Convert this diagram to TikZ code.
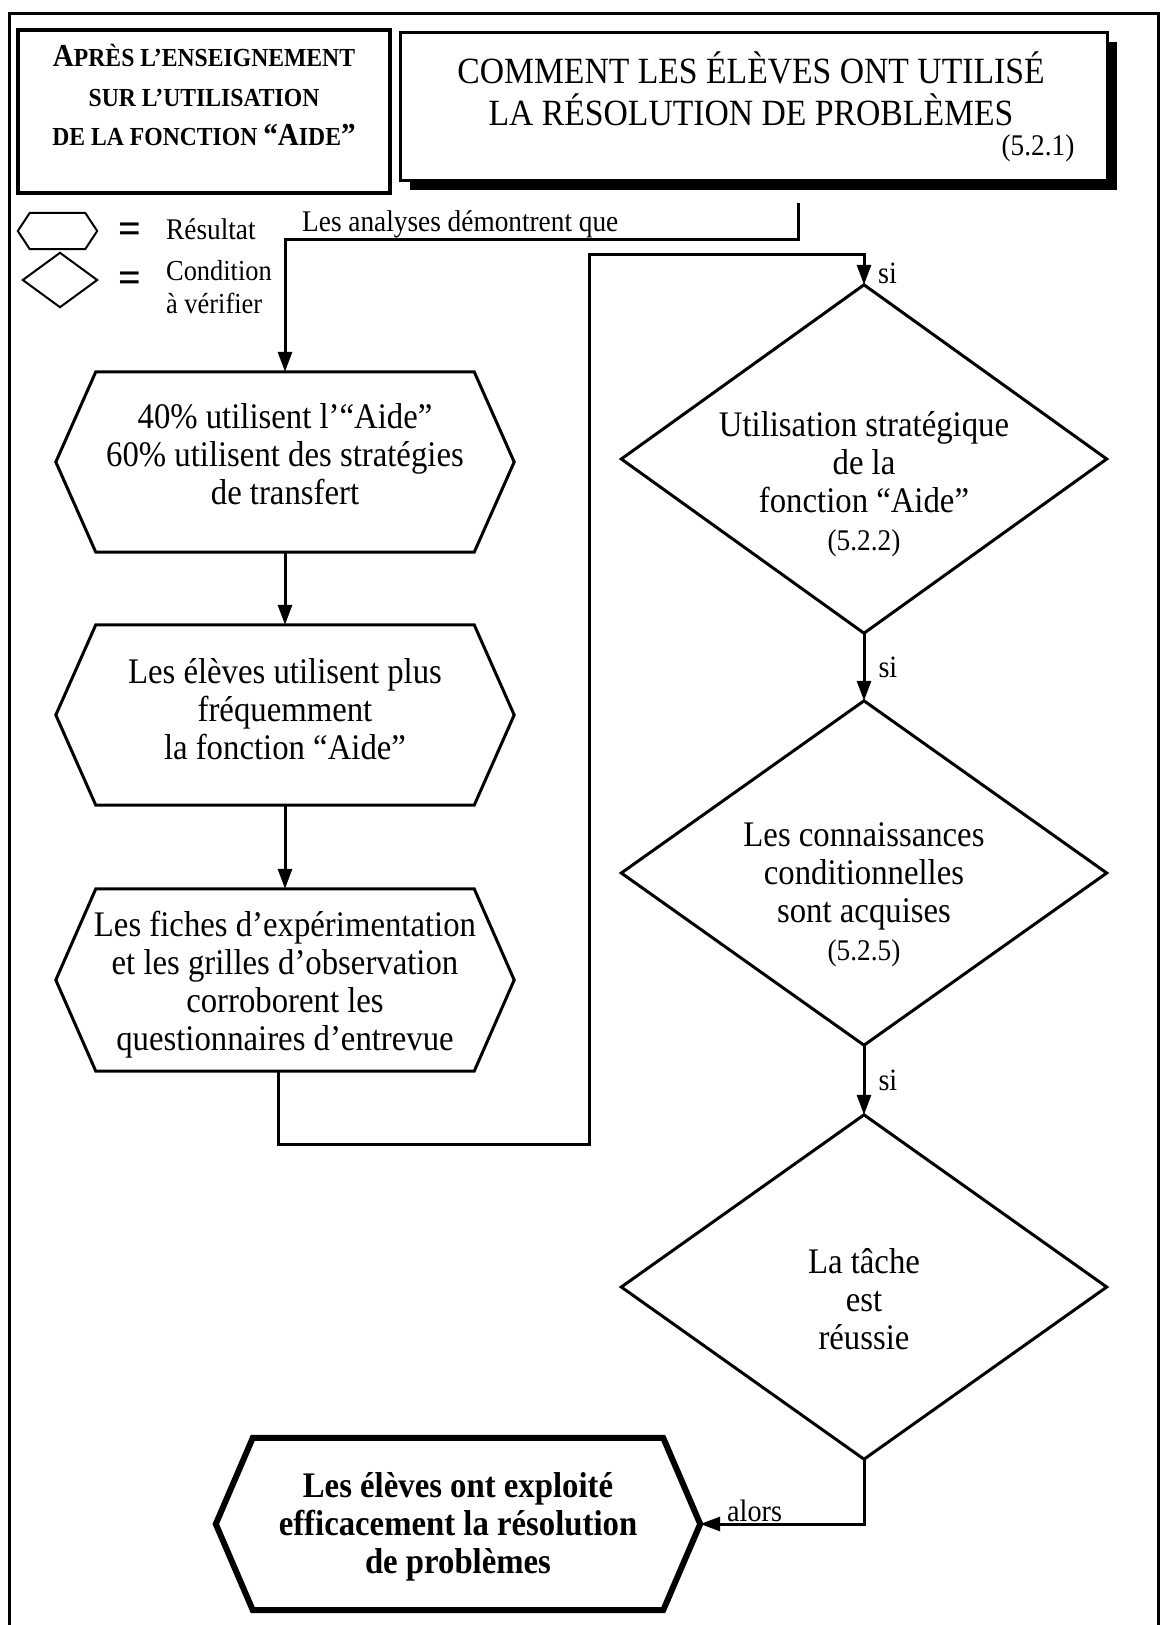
\documentclass[tikz,border=0pt]{standalone}
\usepackage{fontspec}
\setmainfont{Liberation Serif}[FakeStretch=0.91]
\usetikzlibrary{arrows.meta,calc,shadows}

% hexagon ("result") drawn around a rectangular node: name, inset of the points
\newcommand\drawhex[3][]{%
  \draw[#1] (#2.west) -- ([xshift=#3]#2.north west) -- ([xshift=-#3]#2.north east)
    -- (#2.east) -- ([xshift=-#3]#2.south east) -- ([xshift=#3]#2.south west) -- cycle;}
% diamond ("condition") drawn through the four side midpoints of a node
\newcommand\drawdia[2][]{%
  \draw[#1] (#2.north) -- (#2.east) -- (#2.south) -- (#2.west) -- cycle;}
% centred block of lines, moved up (or down) without changing its extent
\newcommand\lift[2]{\raisebox{#1}[\height][\depth]{\begin{tabular}{@{}c@{}}#2\end{tabular}}}
% small capitals for the heading box
\newcommand\capbig[1]{{\fontsize{32}{39.5}\selectfont #1}}
\newcommand\capsmall[1]{{\fontsize{26}{39.5}\selectfont #1}}

\begin{document}
\begin{tikzpicture}[x=1pt,y=-1pt,
  shapebox/.style={rectangle, inner sep=0pt},
  body/.style={font=\fontsize{36}{38}\selectfont},
  numtxt/.style={font=\fontsize{30}{34}\selectfont, inner sep=0pt},
  lab/.style={font=\fontsize{31}{34}\selectfont, inner sep=0pt},
  legtxt/.style={font=\fontsize{30}{31}\selectfont, inner sep=0pt},
  outline/.style={line width=3pt, line join=miter},
  conn/.style={line width=3pt, -{Triangle[length=20pt,width=14pt]}},
]
\useasboundingbox (0,0) rectangle (1162,1625);

% page frame
\draw[line width=3pt] (9,1625) -- (9,13) -- (1158,13) -- (1158,1625);

% heading boxes
\node[shapebox, draw, line width=4pt, minimum width=372pt, minimum height=163pt,
      font=\bfseries\fontsize{26}{39.5}\selectfont] (b1) at (204,111.5)
  {\lift{13pt}{\capbig{A}\capsmall{PRÈS L’ENSEIGNEMENT}\\
   \capsmall{SUR L’UTILISATION}\\
   \capsmall{DE LA FONCTION }\capbig{“A}\capsmall{IDE}\capbig{”}}};

\node[shapebox, draw, line width=3pt, fill=white, minimum width=707pt, minimum height=148pt,
      drop shadow={shadow xshift=10pt, shadow yshift=-10pt, opacity=1, fill=black}] (b2) at (753.5,106) {};
\node[inner sep=0pt, font=\fontsize{37}{36}\selectfont] (title) at (751,94)
  {\begin{tabular}{@{}c@{}}COMMENT LES ÉLÈVES ONT UTILISÉ\\LA RÉSOLUTION DE PROBLÈMES\end{tabular}};
\node[numtxt] (n521) at (1038,148) {(5.2.1)};

% legend
\node[shapebox, minimum width=79pt, minimum height=36pt] (lh) at (57.5,231) {};
\drawhex[line width=2pt]{lh}{12pt}
\node[inner sep=0pt, font=\bfseries\fontsize{44}{44}\selectfont] (eq1) at (130,233) {=};
\node[legtxt, anchor=west] (lres) at (166,229) {Résultat};
\node[shapebox, minimum width=74pt, minimum height=54pt] (ld) at (60,280) {};
\drawdia[line width=2pt]{ld}
\node[inner sep=0pt, font=\bfseries\fontsize{44}{44}\selectfont] (eq2) at (130,282) {=};
\node[legtxt, font=\fontsize{29}{31}\selectfont, anchor=base west] (lcond) at (166,280) {Condition};
\node[legtxt, font=\fontsize{29}{31}\selectfont, anchor=base west] (lverif) at (166,313) {à vérifier};

% results (left column)
\node[shapebox, body, minimum width=458pt, minimum height=180pt] (h1) at (285,462)
  {\lift{3pt}{40\% utilisent l’“Aide”\\60\% utilisent des stratégies\\de transfert}};
\drawhex[outline]{h1}{40pt}
\node[shapebox, body, minimum width=458pt, minimum height=180pt] (h2) at (285,715)
  {\lift{1pt}{Les élèves utilisent plus\\fréquemment\\la fonction “Aide”}};
\drawhex[outline]{h2}{40pt}
\node[shapebox, body, minimum width=458pt, minimum height=182pt] (h3) at (285,980)
  {\lift{-6pt}{Les fiches d’expérimentation\\et les grilles d’observation\\corroborent les\\questionnaires d’entrevue}};
\drawhex[outline]{h3}{40pt}
\node[shapebox, font=\bfseries\fontsize{36}{38}\selectfont, minimum width=484pt, minimum height=172pt] (h4) at (458,1524)
  {\lift{-4pt}{Les élèves ont exploité\\efficacement la résolution\\de problèmes}};
\drawhex[line width=6pt, line join=miter]{h4}{37pt}

% conditions (right column)
\node[shapebox, body, minimum width=485pt, minimum height=348pt] (d1) at (864,459)
  {\lift{-27pt}{Utilisation stratégique\\de la\\fonction “Aide”\\{\fontsize{30}{34}\selectfont (5.2.2)}}};
\drawdia[outline]{d1}
\node[shapebox, body, minimum width=485pt, minimum height=344pt] (d2) at (864,873)
  {\lift{-23pt}{Les connaissances\\conditionnelles\\sont acquises\\{\fontsize{30}{34}\selectfont (5.2.5)}}};
\drawdia[outline]{d2}
\node[shapebox, body, minimum width=485pt, minimum height=344pt] (d3) at (864,1287)
  {\lift{-17pt}{La tâche\\est\\réussie}};
\drawdia[outline]{d3}

% connectors
\coordinate (s0) at (798,203);
\coordinate (s1) at (798,239);
\node[legtxt, anchor=base west] (analyses) at (302,231) {Les analyses démontrent que};
\draw[conn] (s0) -- (s1) -| (h1.north);
\draw[conn] (h1.south) -- (h2.north);
\draw[conn] (h2.south) -- (h3.north);
\coordinate (r1) at (589,1144);
\coordinate (r2) at (589,254);
\draw[conn] ([xshift=-7pt]h3.south) |- (r1) -- (r2) -| (d1.north);
\node[lab, anchor=west] (si1) at (878,273) {si};
\draw[conn] (d1.south) -- node[lab, right=13pt] (si2) {si} (d2.north);
\draw[conn] (d2.south) -- node[lab, right=13pt] (si3) {si} (d3.north);
\draw[conn] (d3.south) |- (h4.east);
\node[lab, anchor=base west] (alors) at (727,1521) {alors};
\end{tikzpicture}
\end{document}
